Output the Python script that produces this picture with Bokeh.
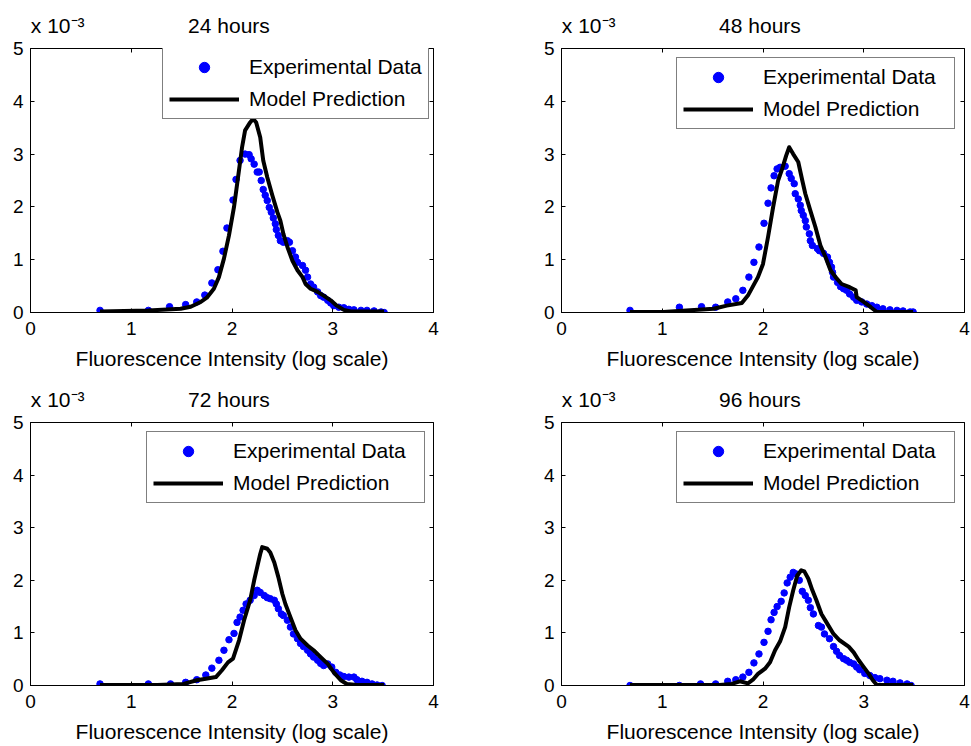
from bokeh.plotting import figure
from bokeh.models import (Range1d, FixedTicker, LinearAxis, Legend,
                          LegendItem, CustomJSTickFormatter)
from bokeh.layouts import gridplot
from bokeh.embed import file_html
from bokeh.resources import INLINE

# ---------------- data (y values in units of 10^-3) ----------------
titles = ["24 hours", "48 hours", "72 hours", "96 hours"]
x_ticks = [0, 1, 2, 3, 4]
y_ticks = [0, 1, 2, 3, 4, 5]
x_label = "Fluorescence Intensity (log scale)"
y_multiplier = "x 10\u207b\u00b3"
legend_labels = ["Experimental Data", "Model Prediction"]

# 24 hours
x24_exp = [0.69, 1.17, 1.38, 1.54, 1.65, 1.73, 1.80, 1.86, 1.91, 1.95, 2.01, 2.04, 2.08,
           2.13, 2.17, 2.19, 2.22, 2.25, 2.27, 2.29, 2.31, 2.33, 2.35, 2.37, 2.39, 2.41,
           2.43, 2.44, 2.46, 2.48, 2.51, 2.55, 2.57, 2.60, 2.63, 2.65, 2.70, 2.73, 2.75,
           2.78, 2.81, 2.85, 2.88, 2.91, 2.95, 2.98, 3.01, 3.06, 3.11, 3.16, 3.21, 3.28,
           3.34, 3.41, 3.48, 3.51]
y24_exp = [0.04, 0.04, 0.11, 0.15, 0.20, 0.33, 0.56, 0.81, 1.16, 1.60, 2.13, 2.52, 2.88,
           3.00, 2.99, 2.91, 2.81, 2.66, 2.66, 2.50, 2.33, 2.22, 2.12, 1.99, 1.90, 1.79,
           1.68, 1.57, 1.46, 1.36, 1.33, 1.36, 1.33, 1.17, 1.05, 0.95, 0.89, 0.80, 0.67,
           0.54, 0.48, 0.39, 0.32, 0.29, 0.23, 0.18, 0.13, 0.10, 0.09, 0.06, 0.05, 0.04,
           0.04, 0.03, 0.01, 0.00]
x24_mod = [0.69, 1.17, 1.49, 1.59, 1.69, 1.75, 1.82, 1.87, 1.92, 1.97, 2.02, 2.06, 2.10,
           2.13, 2.18, 2.21, 2.24, 2.28, 2.31, 2.35, 2.40, 2.45, 2.48, 2.51, 2.55, 2.60,
           2.65, 2.70, 2.73, 2.78, 2.85, 2.91, 2.98, 3.04, 3.11, 3.18, 3.34, 3.51]
y24_mod = [0.02, 0.04, 0.07, 0.11, 0.20, 0.28, 0.45, 0.67, 1.02, 1.46, 2.00, 2.56, 3.13,
           3.45, 3.60, 3.67, 3.60, 3.32, 2.88, 2.56, 2.22, 1.90, 1.74, 1.49, 1.24, 0.98,
           0.80, 0.67, 0.54, 0.45, 0.39, 0.32, 0.23, 0.13, 0.05, 0.02, 0.02, 0.02]

# 48 hours
x48_exp = [0.68, 1.17, 1.39, 1.53, 1.65, 1.73, 1.80, 1.86, 1.91, 1.96, 2.01, 2.05, 2.08,
           2.11, 2.14, 2.17, 2.22, 2.26, 2.28, 2.31, 2.32, 2.35, 2.37, 2.38, 2.40, 2.42,
           2.43, 2.46, 2.47, 2.49, 2.54, 2.56, 2.60, 2.64, 2.66, 2.68, 2.69, 2.70, 2.74,
           2.77, 2.80, 2.83, 2.86, 2.90, 2.93, 2.98, 3.03, 3.08, 3.13, 3.19, 3.26, 3.33,
           3.39, 3.46, 3.49]
y48_exp = [0.04, 0.10, 0.11, 0.10, 0.20, 0.26, 0.42, 0.67, 0.95, 1.24, 1.69, 2.07, 2.36,
           2.59, 2.72, 2.75, 2.77, 2.63, 2.54, 2.44, 2.25, 2.15, 2.03, 1.93, 1.84, 1.74,
           1.62, 1.49, 1.36, 1.27, 1.21, 1.17, 1.12, 1.05, 0.95, 0.86, 0.76, 0.67, 0.57,
           0.49, 0.45, 0.42, 0.35, 0.29, 0.23, 0.20, 0.16, 0.13, 0.10, 0.07, 0.05, 0.04,
           0.03, 0.01, 0.01]
x48_mod = [0.68, 1.01, 1.24, 1.51, 1.64, 1.79, 1.85, 1.95, 2.00, 2.05, 2.10, 2.15, 2.19,
           2.23, 2.26, 2.30, 2.35, 2.39, 2.42, 2.47, 2.52, 2.57, 2.62, 2.67, 2.72, 2.78,
           2.86, 2.92, 2.93, 3.00, 3.07, 3.13, 3.49]
y48_mod = [0.01, 0.01, 0.04, 0.07, 0.13, 0.18, 0.32, 0.67, 0.92, 1.43, 1.99, 2.50, 2.72,
           2.97, 3.13, 3.00, 2.85, 2.50, 2.25, 1.93, 1.62, 1.27, 1.05, 0.80, 0.67, 0.54,
           0.48, 0.42, 0.29, 0.20, 0.10, 0.01, 0.01]

# 72 hours
x72_exp = [0.69, 1.17, 1.39, 1.54, 1.65, 1.74, 1.80, 1.87, 1.92, 1.97, 2.02, 2.05, 2.08,
           2.11, 2.14, 2.18, 2.22, 2.25, 2.28, 2.32, 2.35, 2.38, 2.42, 2.44, 2.46, 2.49,
           2.51, 2.55, 2.58, 2.61, 2.65, 2.68, 2.71, 2.75, 2.78, 2.81, 2.85, 2.88, 2.91,
           2.95, 2.99, 3.03, 3.07, 3.11, 3.16, 3.21, 3.24, 3.29, 3.34, 3.39, 3.44, 3.49]
y72_exp = [0.03, 0.03, 0.03, 0.06, 0.11, 0.20, 0.33, 0.48, 0.67, 0.87, 0.99, 1.20, 1.30,
           1.43, 1.55, 1.62, 1.71, 1.81, 1.77, 1.71, 1.67, 1.65, 1.62, 1.55, 1.46, 1.36,
           1.33, 1.24, 1.11, 0.98, 0.89, 0.80, 0.74, 0.67, 0.60, 0.54, 0.48, 0.42, 0.38,
           0.41, 0.35, 0.25, 0.20, 0.17, 0.16, 0.16, 0.11, 0.08, 0.06, 0.03, 0.01, 0.00]
x72_mod = [0.69, 1.26, 1.52, 1.65, 1.74, 1.84, 1.90, 1.96, 2.01, 2.07, 2.12, 2.18, 2.22,
           2.25, 2.28, 2.30, 2.35, 2.38, 2.42, 2.46, 2.50, 2.53, 2.58, 2.63, 2.68, 2.75,
           2.81, 2.88, 2.95, 3.01, 3.08, 3.14, 3.24, 3.51]
y72_mod = [0.01, 0.01, 0.03, 0.10, 0.13, 0.16, 0.29, 0.44, 0.51, 0.86, 1.24, 1.62, 2.00,
           2.25, 2.50, 2.63, 2.60, 2.53, 2.34, 2.06, 1.74, 1.55, 1.30, 1.05, 0.89, 0.76,
           0.67, 0.54, 0.41, 0.25, 0.10, 0.03, 0.01, 0.01]

# 96 hours
x96_exp = [0.68, 1.17, 1.38, 1.53, 1.65, 1.73, 1.80, 1.86, 1.91, 1.96, 2.01, 2.05, 2.08,
           2.11, 2.14, 2.18, 2.21, 2.24, 2.27, 2.30, 2.33, 2.36, 2.39, 2.42, 2.45, 2.47,
           2.50, 2.55, 2.58, 2.61, 2.66, 2.70, 2.73, 2.76, 2.80, 2.83, 2.86, 2.90, 2.93,
           2.96, 3.01, 3.06, 3.11, 3.16, 3.23, 3.29, 3.36, 3.43, 3.47]
y96_exp = [0.00, 0.00, 0.03, 0.03, 0.08, 0.11, 0.16, 0.25, 0.43, 0.60, 0.82, 1.03, 1.25,
           1.39, 1.50, 1.60, 1.76, 1.95, 2.06, 2.15, 2.12, 2.00, 1.79, 1.71, 1.62, 1.48,
           1.36, 1.14, 1.11, 0.98, 0.89, 0.74, 0.65, 0.57, 0.51, 0.48, 0.44, 0.41, 0.35,
           0.30, 0.23, 0.19, 0.15, 0.13, 0.10, 0.08, 0.05, 0.03, 0.00]
x96_mod = [0.68, 1.57, 1.69, 1.77, 1.85, 1.90, 1.95, 2.02, 2.07, 2.12, 2.17, 2.22, 2.26,
           2.30, 2.34, 2.38, 2.41, 2.45, 2.49, 2.53, 2.58, 2.63, 2.70, 2.76, 2.85, 2.90,
           2.95, 3.00, 3.05, 3.09, 3.13, 3.49]
y96_mod = [0.01, 0.01, 0.03, 0.08, 0.04, 0.11, 0.22, 0.32, 0.44, 0.67, 0.84, 1.11, 1.49,
           1.81, 2.09, 2.19, 2.17, 2.03, 1.81, 1.62, 1.36, 1.20, 0.98, 0.86, 0.74, 0.63,
           0.48, 0.35, 0.22, 0.10, 0.01, 0.01]

exp_x = [x24_exp, x48_exp, x72_exp, x96_exp]
exp_y = [y24_exp, y48_exp, y72_exp, y96_exp]
mod_x = [x24_mod, x48_mod, x72_mod, x96_mod]
mod_y = [y24_mod, y48_mod, y72_mod, y96_mod]

# ---------------- layout / style ----------------
FONT = "Liberation Sans"
FS = "21px"
TICK_FS = "19px"
BLUE = "#0000FF"
HEADER_POS = [0.27, 1.97]   # x positions (axis units) of the "x 10^-3" and title texts

# (width, height, left, right, top, bottom, legend_xy, label_width)
panel_geom = [
    (485, 373, 30, 52, 48, 61, (132, 193), 172),
    (486, 373, 76, 7, 48, 61, (115, 183), 185),
    (485, 373, 30, 52, 49, 61, (116, 182), 185),
    (486, 373, 76, 7, 49, 61, (115, 182), 185),
]


def blank_axis(ticks):
    return LinearAxis(
        ticker=FixedTicker(ticks=ticks),
        formatter=CustomJSTickFormatter(code="return ''"),
        major_tick_in=4, major_tick_out=0,
        minor_tick_line_color=None, axis_line_color=None,
        major_label_standoff=0, major_tick_line_color="black",
    )


def header_axis(texts):
    return LinearAxis(
        ticker=FixedTicker(ticks=HEADER_POS),
        formatter=CustomJSTickFormatter(args=dict(names=texts),
                                        code="return names[index]"),
        major_tick_in=0, major_tick_out=0, major_tick_line_color=None,
        minor_tick_line_color=None, axis_line_color=None,
        major_label_standoff=12, major_label_text_font=FONT,
        major_label_text_font_size=FS, major_label_text_color="black",
    )


def make_panel(i):
    w, h, bl, br, bt, bb, leg_xy, lw = panel_geom[i]
    p = figure(width=w, height=h, x_range=Range1d(0, 4), y_range=Range1d(0, 5),
               output_backend="svg", toolbar_location=None, title=None,
               min_border_left=bl, min_border_right=br,
               min_border_top=bt, min_border_bottom=bb)
    p.grid.visible = False
    p.outline_line_color = "black"
    p.outline_line_alpha = 1.0
    p.outline_line_width = 1
    p.background_fill_color = "white"
    p.border_fill_color = "white"

    for ax, ticks in ((p.xaxis[0], x_ticks), (p.yaxis[0], y_ticks)):
        ax.ticker = FixedTicker(ticks=ticks)
        ax.major_tick_in = 4
        ax.major_tick_out = 0
        ax.minor_tick_line_color = None
        ax.axis_line_color = "black"
        ax.major_tick_line_color = "black"
        ax.major_label_text_font = FONT
        ax.major_label_text_font_size = TICK_FS
        ax.major_label_text_color = "black"
    p.xaxis.major_label_standoff = 9
    p.yaxis.major_label_standoff = 7
    p.xaxis.axis_label = x_label
    p.xaxis.axis_label_text_font = FONT
    p.xaxis.axis_label_text_font_size = FS
    p.xaxis.axis_label_text_font_style = "normal"
    p.xaxis.axis_label_text_color = "black"
    p.xaxis.axis_label_standoff = 9

    # box ticks on the right and top (MATLAB "box on"), then header texts
    p.add_layout(blank_axis(y_ticks), "right")
    p.add_layout(blank_axis(x_ticks), "above")
    p.add_layout(header_axis([y_multiplier, titles[i]]), "above")

    r_exp = p.scatter(exp_x[i], exp_y[i], size=6.5, color=BLUE, marker="circle")
    r_mod = p.line(mod_x[i], mod_y[i], line_width=4, line_color="black",
                   line_join="round")

    legend = Legend(items=[LegendItem(label=legend_labels[0], renderers=[r_exp]),
                           LegendItem(label=legend_labels[1], renderers=[r_mod])],
                    location=leg_xy, orientation="vertical",
                    border_line_color="black", border_line_width=1,
                    background_fill_color="white", background_fill_alpha=1,
                    label_text_font=FONT, label_text_font_size=FS,
                    label_text_color="black",
                    glyph_width=70, glyph_height=26, label_standoff=10,
                    label_width=lw, padding=6, spacing=6, margin=0)
    p.add_layout(legend, "center")
    return p


panels = [make_panel(i) for i in range(4)]
grid = gridplot([[panels[0], panels[1]], [panels[2], panels[3]]],
                toolbar_location=None)

open("out.html", "w").write(file_html(grid, INLINE))
